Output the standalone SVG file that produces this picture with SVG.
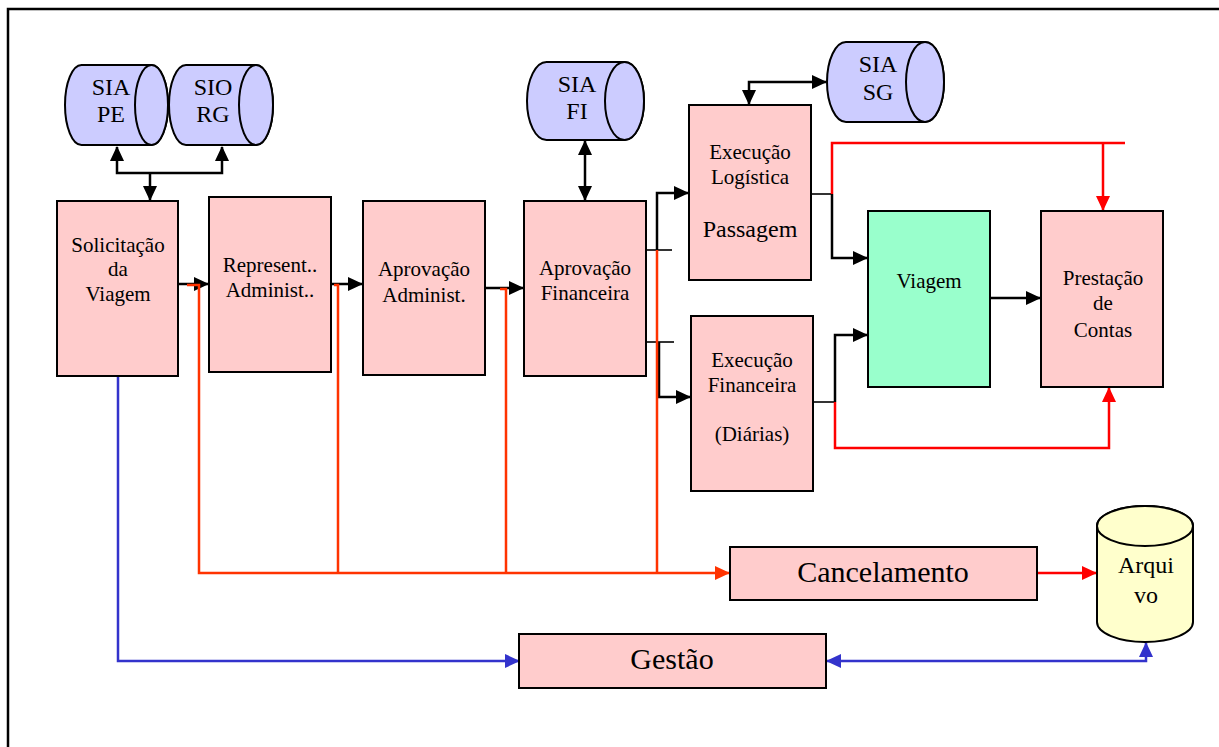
<svg xmlns="http://www.w3.org/2000/svg" width="1219" height="747" viewBox="0 0 1219 747">
  <style>
    text { font-family: "Liberation Serif", "Times New Roman", serif; fill: #000; text-anchor: middle; }
    .t { font-size: 21px; }
    .tc { font-size: 24px; }
    .tb { font-size: 30px; }
    .box { fill: #FFCCCC; stroke: #000; stroke-width: 2; }
    .green { fill: #99FFCC; stroke: #000; stroke-width: 2; }
    .db { fill: #CCCCFF; stroke: #000; stroke-width: 2; }
    .arch { fill: #FFFFCC; stroke: #000; stroke-width: 2; }
    .k { fill: none; stroke: #000; stroke-width: 2.5; }
    .kt { fill: none; stroke: #000; stroke-width: 1.6; }
    .r { fill: none; stroke: #FF0000; stroke-width: 2.5; }
    .o { fill: none; stroke: #FF3300; stroke-width: 2.5; }
    .b { fill: none; stroke: #3333CC; stroke-width: 2.5; }
  </style>
  <defs>
    <marker id="ak" markerUnits="userSpaceOnUse" markerWidth="15" markerHeight="14" refX="14" refY="7" orient="auto-start-reverse">
      <path d="M0,0 L15,7 L0,14 Z" fill="#000"/>
    </marker>
    <marker id="ar" markerUnits="userSpaceOnUse" markerWidth="15" markerHeight="14" refX="14" refY="7" orient="auto">
      <path d="M0,0 L15,7 L0,14 Z" fill="#FF0000"/>
    </marker>
    <marker id="ao" markerUnits="userSpaceOnUse" markerWidth="15" markerHeight="14" refX="14" refY="7" orient="auto">
      <path d="M0,0 L15,7 L0,14 Z" fill="#FF3300"/>
    </marker>
    <marker id="ab" markerUnits="userSpaceOnUse" markerWidth="15" markerHeight="14" refX="14" refY="7" orient="auto-start-reverse">
      <path d="M0,0 L15,7 L0,14 Z" fill="#3333CC"/>
    </marker>
  </defs>

  <rect width="1219" height="747" fill="#fff"/>
  <!-- page frame -->
  <rect x="8" y="9" width="1240" height="770" fill="none" stroke="#000" stroke-width="2.5"/>

  <!-- connectors -->
  <g id="connectors">
    <!-- databases to request -->
    <path class="k" d="M150,173 H117 V147" marker-end="url(#ak)"/>
    <path class="k" d="M150,173 H222 V147" marker-end="url(#ak)"/>
    <path class="k" d="M150,173 V200" marker-end="url(#ak)"/>
    <!-- main flow -->
    <path class="k" d="M178,284 H208" marker-end="url(#ak)"/>
    <path class="k" d="M331,284 H362" marker-end="url(#ak)"/>
    <path class="k" d="M485,288 H523" marker-end="url(#ak)"/>
    <path class="k" d="M585,141 V200" marker-start="url(#ak)" marker-end="url(#ak)"/>
    <path class="kt" d="M646,250 H672"/>
    <path class="k" d="M657,250 V193 H688" marker-end="url(#ak)"/>
    <path class="kt" d="M646,342 H674"/>
    <path class="k" d="M659,342 V397 H690" marker-end="url(#ak)"/>
    <path class="k" d="M826,82 H749 V104" marker-start="url(#ak)" marker-end="url(#ak)"/>
    <path class="kt" d="M811,194 H832"/>
    <path class="k" d="M832,194 V258 H867" marker-end="url(#ak)"/>
    <path class="kt" d="M813,402 H835"/>
    <path class="k" d="M835,402 V335 H867" marker-end="url(#ak)"/>
    <path class="k" d="M990,298 H1040" marker-end="url(#ak)"/>
    <!-- accountability -->
    <path class="r" d="M832,194 V143 H1125"/>
    <path class="r" d="M1103,143 V210" marker-end="url(#ar)"/>
    <path class="r" d="M835,402 V448 H1109 V388" marker-end="url(#ar)"/>
    <!-- cancellation -->
    <path class="o" d="M187,285 H199 V573 H729" marker-end="url(#ao)"/>
    <path class="o" d="M334,285 H338 V573"/>
    <path class="o" d="M500,289 H506 V573"/>
    <path class="o" d="M657,250 V573"/>
    <path class="r" d="M1037,573 H1096" marker-end="url(#ar)"/>
    <!-- management -->
    <path class="b" d="M118,376 V661 H519" marker-end="url(#ab)"/>
    <path class="b" d="M827,661 H1146 V643" marker-start="url(#ab)" marker-end="url(#ab)"/>
  </g>

  <!-- databases -->
  <g id="sia-pe">
    <path class="db" d="M81.5,65 H151.5 A16.5,40 0 0 1 151.5,145 H81.5 A16.5,40 0 0 1 81.5,65 Z"/>
    <ellipse class="db" cx="151.5" cy="105" rx="16.5" ry="40"/>
    <text class="tc" x="111" y="95">SIA</text>
    <text class="tc" x="111" y="122">PE</text>
  </g>
  <g id="sio-rg">
    <path class="db" d="M186,65 H256 A17,40 0 0 1 256,145 H186 A17,40 0 0 1 186,65 Z"/>
    <ellipse class="db" cx="256" cy="105" rx="17" ry="40"/>
    <text class="tc" x="213" y="95">SIO</text>
    <text class="tc" x="213" y="122">RG</text>
  </g>
  <g id="sia-fi">
    <path class="db" d="M546.5,62 H624.5 A19.5,39 0 0 1 624.5,140 H546.5 A19.5,39 0 0 1 546.5,62 Z"/>
    <ellipse class="db" cx="624.5" cy="101" rx="19.5" ry="39"/>
    <text class="tc" x="577" y="92">SIA</text>
    <text class="tc" x="577" y="119">FI</text>
  </g>
  <g id="sia-sg">
    <path class="db" d="M846,42 H925 A19,40 0 0 1 925,122 H846 A19,40 0 0 1 846,42 Z"/>
    <ellipse class="db" cx="925" cy="82" rx="19" ry="40"/>
    <text class="tc" x="878" y="72">SIA</text>
    <text class="tc" x="878" y="100">SG</text>
  </g>

  <!-- process steps -->
  <g id="solicitacao">
    <rect class="box" x="57" y="201" width="121" height="175"/>
    <text class="t" x="118" y="252">Solicitação</text>
    <text class="t" x="118" y="276">da</text>
    <text class="t" x="118" y="301">Viagem</text>
  </g>
  <g id="representante">
    <rect class="box" x="209" y="197" width="122" height="175"/>
    <text class="t" x="270" y="272">Represent..</text>
    <text class="t" x="270" y="297">Administ..</text>
  </g>
  <g id="aprovacao-adm">
    <rect class="box" x="363" y="201" width="122" height="174"/>
    <text class="t" x="424" y="276">Aprovação</text>
    <text class="t" x="424" y="302">Administ.</text>
  </g>
  <g id="aprovacao-fin">
    <rect class="box" x="524" y="201" width="122" height="175"/>
    <text class="t" x="585" y="275">Aprovação</text>
    <text class="t" x="585" y="300">Financeira</text>
  </g>
  <g id="exec-logistica">
    <rect class="box" x="689" y="105" width="122" height="175"/>
    <text class="t" x="750" y="159">Execução</text>
    <text class="t" x="750" y="184">Logística</text>
    <text class="tc" x="750" y="237">Passagem</text>
  </g>
  <g id="exec-financeira">
    <rect class="box" x="691" y="316" width="122" height="175"/>
    <text class="t" x="752" y="367">Execução</text>
    <text class="t" x="752" y="392">Financeira</text>
    <text class="t" x="752" y="441">(Diárias)</text>
  </g>
  <g id="viagem">
    <rect class="green" x="868" y="211" width="122" height="176"/>
    <text class="t" x="929" y="288">Viagem</text>
  </g>
  <g id="prestacao">
    <rect class="box" x="1041" y="211" width="122" height="176"/>
    <text class="t" x="1103" y="285">Prestação</text>
    <text class="t" x="1103" y="310">de</text>
    <text class="t" x="1103" y="337">Contas</text>
  </g>
  <g id="cancelamento">
    <rect class="box" x="730" y="547" width="307" height="53"/>
    <text class="tb" x="883" y="582">Cancelamento</text>
  </g>
  <g id="gestao">
    <rect class="box" x="519" y="634" width="307" height="54"/>
    <text class="tb" x="672" y="669">Gestão</text>
  </g>
  <g id="arquivo">
    <path class="arch" d="M1097,526 V622 A48,20 0 0 0 1193,622 V526 A48,20 0 0 0 1097,526 Z"/>
    <ellipse class="arch" cx="1145" cy="526" rx="48" ry="20"/>
    <text class="tc" x="1146" y="573">Arqui</text>
    <text class="tc" x="1146" y="603">vo</text>
  </g>
</svg>
